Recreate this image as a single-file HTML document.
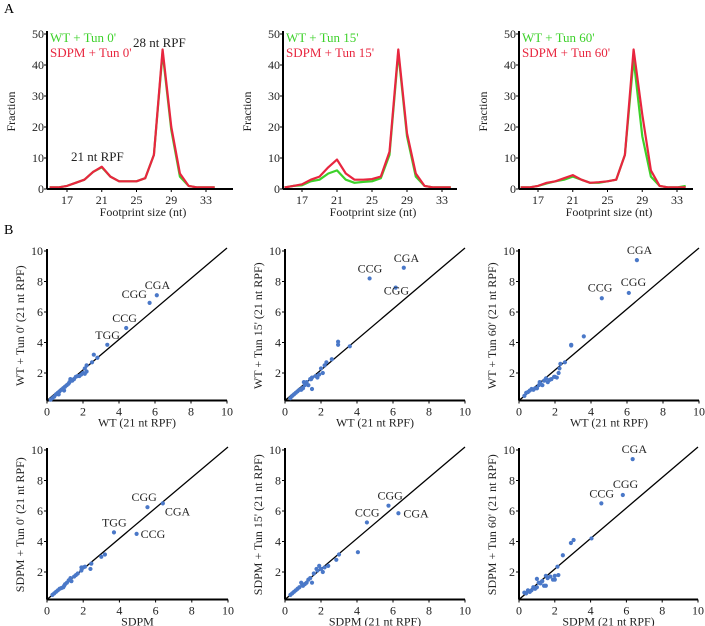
<!DOCTYPE html>
<html><head><meta charset="utf-8">
<style>
html,body{margin:0;padding:0;background:#fff;}
svg{display:block;font-family:"Liberation Serif",serif;}
</style></head>
<body>
<svg id="fig" width="705" height="626" viewBox="0 0 705 626" xmlns="http://www.w3.org/2000/svg">
<text x="4" y="13" font-size="14">A</text>
<text x="4" y="234" font-size="14">B</text>
</svg>
<script>
// ---- Panel A data (footprint size distributions) ----
const sizes = [15,16,17,18,19,20,21,22,23,24,25,26,27,28,29,30,31,32,33,34];
const wt0   = [0.5,0.5,1,2,3,5.5,7,4,2.5,2.5,2.5,3.5,11,44,19,4,1,0.5,0.5,0.5];
const sdpm0 = [0.5,0.5,1,2,3,5.5,7.2,4,2.5,2.5,2.5,3.5,11,45,20,5,1,0.5,0.5,0.5];
const wt15  = [0.5,1,1.2,2.5,3,5,6,3,2,2.3,2.5,3.5,11,44,17,4,1,0.5,0.5,0.5];
const sdpm15= [0.5,1,1.5,3,4,7,9.5,5,3,3,3.2,4,12,45,18,5,1,0.5,0.5,0.5];
const wt60  = [0.5,0.5,1,1.8,2.5,3,4,3,2,2,2.5,3,11,42,17,4,1,0.5,0.5,1];
const sdpm60= [0.5,0.5,1,2,2.5,3.5,4.5,3,2,2.2,2.5,3,11,45,24,6,1,0.5,0.5,0.5];
const aTicksX = [17,21,25,29,33];
const aTicksY = [0,10,20,30,40,50];
const aLegendWT = ["WT + Tun 0'","WT + Tun 15'","WT + Tun 60'"];
const aLegendSD = ["SDPM + Tun 0'","SDPM + Tun 15'","SDPM + Tun 60'"];

// ---- Panel B data (scatter, codon occupancy) ----
const r1c1x=[6.1,5.7,4.4,3.35,2.6,2.5,2.8,2.2,2.1,2.0,1.8,1.9,1.3,1.4,1.2,1.0,0.9,0.8,0.7,0.6,0.5,0.4,0.3,0.2,1.1,1.5,1.7,2.2,0.95,1.25,0.65,2.1,1.6];
const r1c1y=[7.1,6.6,4.95,3.85,3.2,2.7,3.0,2.5,2.3,2.0,1.8,1.9,1.6,1.5,1.3,1.1,1.0,0.9,0.8,0.7,0.6,0.45,0.35,0.25,1.2,1.6,1.8,2.1,0.85,1.4,0.6,1.95,1.75];
const r1c2x=[6.6,4.7,6.15,2.95,2.95,3.6,2.6,2.3,2.2,2.0,1.9,1.7,1.5,1.5,1.4,1.2,1.1,1.0,0.9,0.8,0.7,0.6,0.5,0.4,0.3,1.05,1.3,1.45,0.95,2.1,1.8];
const r1c2y=[8.9,8.2,7.6,4.05,3.85,3.75,2.9,2.7,2.5,2.3,1.9,1.8,1.7,0.95,1.6,1.4,1.2,1.0,0.9,0.9,0.8,0.7,0.6,0.5,0.35,1.4,1.2,1.6,1.0,2.0,1.7];
const r1c3x=[6.55,6.1,4.6,3.6,2.9,2.9,2.55,2.3,2.2,2.1,2.0,1.8,1.6,1.5,1.4,1.2,1.1,1.0,0.9,0.8,0.7,0.6,0.5,0.4,0.3,1.3,1.15,2.25,1.7,1.95];
const r1c3y=[9.4,7.25,6.9,4.4,3.85,3.8,2.7,2.6,2.0,1.7,1.75,1.6,1.4,1.65,1.5,1.3,1.2,1.0,1.0,0.9,0.95,0.85,0.75,0.7,0.5,1.2,1.4,2.3,1.55,1.75];
const r2c1x=[6.4,5.55,3.7,4.95,3.2,3.0,2.45,2.4,2.1,2.0,1.9,1.7,1.5,1.3,1.2,1.1,1.0,0.9,0.8,0.7,0.6,0.5,0.4,0.3,1.35,1.6,1.9,0.95];
const r2c1y=[6.5,6.25,4.6,4.5,3.15,3.0,2.55,2.2,2.35,2.3,2.1,1.9,1.7,1.6,1.45,1.3,1.2,1.0,0.95,0.9,0.8,0.7,0.6,0.5,1.4,1.8,2.3,1.1];
const r2c2x=[5.75,4.55,6.3,4.05,3.0,2.85,2.4,2.2,2.0,1.9,1.8,1.6,1.4,1.3,1.2,1.1,1.0,0.9,0.8,0.7,0.6,0.5,0.4,0.3,1.5,1.75,2.1,0.95];
const r2c2y=[6.35,5.25,5.85,3.3,3.15,2.8,2.4,2.3,2.2,2.4,2.1,1.9,1.6,1.5,1.3,1.2,1.1,1.3,1.0,0.9,0.8,0.7,0.6,0.5,1.3,2.2,2.0,1.2];
const r2c3x=[6.35,5.8,4.6,4.05,3.05,2.9,2.45,2.15,2.2,2.0,1.9,1.75,1.5,1.5,1.3,1.2,1.0,1.0,0.9,0.8,0.7,0.6,0.5,0.4,0.3,1.6,1.1,2.0,1.4,0.6];
const r2c3y=[9.4,7.05,6.5,4.2,4.1,3.9,3.1,2.35,1.8,1.75,1.5,1.7,1.75,1.1,1.4,1.25,1.55,1.0,0.9,1.0,0.8,0.7,0.8,0.6,0.65,1.6,1.3,1.5,1.1,0.7];
const bTicks=[0,2,4,6,8,10];
const yTicksB=[2,4,6,8,10];

const svg=document.getElementById('fig');
const NS='http://www.w3.org/2000/svg';
function mk(tag,attrs,parent){const e=document.createElementNS(NS,tag);for(const k in attrs)e.setAttribute(k,attrs[k]);(parent||svg).appendChild(e);return e;}
function txt(s,attrs,parent){const e=mk('text',attrs,parent);e.textContent=s;return e;}

// ---- Panel A ----
const aPanels=[{ax:47,x17:67,x33:206,xEnd:233,wt:wt0,sd:sdpm0},
               {ax:283,x17:302,x33:442,xEnd:457,wt:wt15,sd:sdpm15},
               {ax:519,x17:538,x33:677,xEnd:693,wt:wt60,sd:sdpm60}];
const aY0=189, aY50=34;
aPanels.forEach((p,i)=>{
  const g=mk('g',{});
  
  
  const sx=v=>p.x17+(v-17)*(p.x33-p.x17)/16;
  const sy=v=>aY0-(v)*(aY0-aY50)/50;
  const mkLine=(arr,col,nm)=>{
    const pts=sizes.map((s,j)=>sx(s).toFixed(1)+','+sy(arr[j]).toFixed(1)).join(' ');
    const l=mk('polyline',{points:pts,fill:'none',stroke:col,'stroke-width':2.2,'stroke-linejoin':'round'},g);
    
    
  };
  mkLine(p.wt,'#3dd12a','wt-line');
  mkLine(p.sd,'#e8263f','sdpm-line');
  mk('line',{x1:p.ax,y1:aY50-3,x2:p.ax,y2:aY0,stroke:'#000','stroke-width':2},g);
  mk('line',{x1:p.ax,y1:aY0,x2:p.xEnd,y2:aY0,stroke:'#000','stroke-width':2},g);
  aTicksY.forEach(t=>{
    mk('line',{x1:p.ax-3,y1:sy(t),x2:p.ax,y2:sy(t),stroke:'#000','stroke-width':1},g);
    txt(String(t),{x:p.ax-3,y:sy(t)+4,'font-size':12,'text-anchor':'end',fill:'#222'},g);
  });
  aTicksX.forEach(t=>{
    mk('line',{x1:sx(t),y1:aY0,x2:sx(t),y2:aY0+3,stroke:'#000','stroke-width':1},g);
    txt(String(t),{x:sx(t),y:aY0+15,'font-size':12,'text-anchor':'middle',fill:'#222'},g);
  });
  const xl=txt('Footprint size (nt)',{x:(p.ax+p.xEnd)/2+3,y:216,'font-size':12,'text-anchor':'middle',fill:'#222'},g);
  
  
  const yl=txt('Fraction',{x:0,y:0,'font-size':12,'text-anchor':'middle',fill:'#222',transform:`translate(${p.ax-32},${(aY0+aY50)/2}) rotate(-90)`},g);
  
  
  const l1=txt(aLegendWT[i],{x:p.ax+3,y:42,'font-size':13,fill:'#3dd12a'},g);
  
  
  const l2=txt(aLegendSD[i],{x:p.ax+3,y:57,'font-size':13,fill:'#e8263f'},g);
  
  
  if(i===0){
    const a1=txt('28 nt RPF',{x:133,y:47,'font-size':13,fill:'#222'},g);
    
    
    const a2=txt('21 nt RPF',{x:71,y:161,'font-size':13,fill:'#222'},g);
    
    
  }
});

// ---- Panel B ----
const codonLabels=[["CGA","CGG","CCG","TGG"],["CGA","CCG","CGG"],["CGA","CGG","CCG"],
                   ["CGA","CGG","TGG","CCG"],["CGG","CCG","CGA"],["CGA","CGG","CCG"]];
const labelOff=[[[-12,-6],[-28,-5],[-14,-6],[-12,-6]],[[-10,-6],[-12,-6],[-12,7]],[[-10,-6],[-8,-7],[-14,-7]],
                [[2,12],[-16,-6],[-12,-6],[4,4]],[[-11,-6],[-12,-6],[5,4]],[[-11,-6],[-10,-7],[-12,-6]]];
const bPanels=[
 {x0:47,x10:227,y0:403.5,y2:373,xs:r1c1x,ys:r1c1y,xl:'WT (21 nt RPF)',yl:"WT + Tun 0' (21 nt RPF)"},
 {x0:285,x10:465,y0:403.5,y2:373,xs:r1c2x,ys:r1c2y,xl:'WT (21 nt RPF)',yl:"WT + Tun 15' (21 nt RPF)"},
 {x0:519,x10:699,y0:403.5,y2:373,xs:r1c3x,ys:r1c3y,xl:'WT (21 nt RPF)',yl:"WT + Tun 60' (21 nt RPF)"},
 {x0:47,x10:228,y0:602.5,y2:572,xs:r2c1x,ys:r2c1y,xl:'SDPM',yl:"SDPM + Tun 0' (21 nt RPF)"},
 {x0:285,x10:465,y0:602.5,y2:572,xs:r2c2x,ys:r2c2y,xl:'SDPM (21 nt RPF)',yl:"SDPM  + Tun 15' (21 nt RPF)"},
 {x0:519,x10:698,y0:602.5,y2:572,xs:r2c3x,ys:r2c3y,xl:'SDPM (21 nt RPF)',yl:"SDPM + Tun 60' (21 nt RPF)"}];
bPanels.forEach((p,i)=>{
  const g=mk('g',{});
  
  
  const sx=v=>p.x0+v*(p.x10-p.x0)/10;
  const sy=v=>p.y0-v*(p.y0-p.y2)/2;
  const axY=p.y0-3;
  mk('line',{x1:p.x0,y1:sy(10)-2,x2:p.x0,y2:axY,stroke:'#000','stroke-width':2},g);
  mk('line',{x1:p.x0,y1:axY,x2:p.x10,y2:axY,stroke:'#000','stroke-width':2},g);
  const d=mk('line',{x1:sx(0),y1:axY,x2:sx(10),y2:sy(10.2),stroke:'#000','stroke-width':1.3},g);
  
  
  yTicksB.forEach(t=>{
    mk('line',{x1:p.x0-3,y1:sy(t),x2:p.x0,y2:sy(t),stroke:'#000','stroke-width':1},g);
    txt(String(t),{x:p.x0-4,y:sy(t)+4,'font-size':12,'text-anchor':'end',fill:'#222'},g);
  });
  bTicks.forEach(t=>{
    mk('line',{x1:sx(t),y1:axY,x2:sx(t),y2:axY+3,stroke:'#000','stroke-width':1},g);
    txt(String(t),{x:sx(t),y:axY+15,'font-size':12,'text-anchor':'middle',fill:'#222'},g);
  });
  p.xs.forEach((x,j)=>{
    const c=mk('circle',{cx:sx(x),cy:sy(p.ys[j]),r:2.1,fill:'#4a78c8'},g);
    
    
  });
  codonLabels[i].forEach((lb,j)=>{
    const t=txt(lb,{x:sx(p.xs[j])+labelOff[i][j][0],y:sy(p.ys[j])+labelOff[i][j][1],'font-size':12,fill:'#222'},g);
    
    
  });
  const xl=txt(p.xl,{x:(p.x0+p.x10)/2,y:axY+26,'font-size':12,'text-anchor':'middle',fill:'#222'},g);
  
  
  const yl=txt(p.yl,{x:0,y:0,'font-size':12,'text-anchor':'middle',fill:'#222',transform:`translate(${p.x0-23},${(sy(10)+axY)/2}) rotate(-90)`},g);
  
  
});
</script>
</body></html>
